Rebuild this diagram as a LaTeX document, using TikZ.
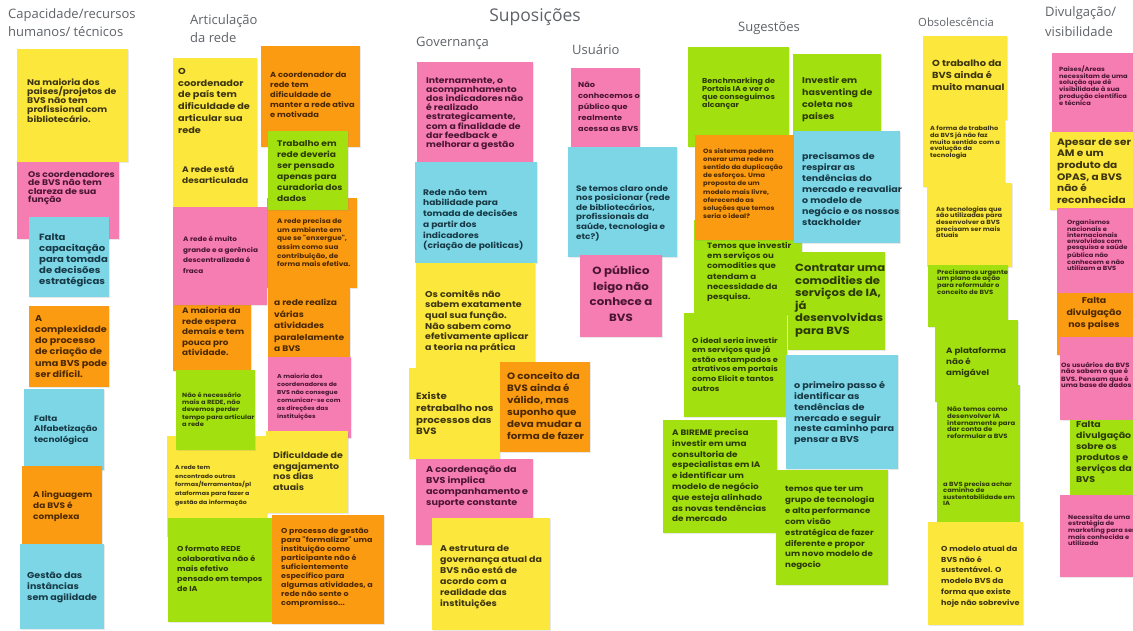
\documentclass[tikz,border=0pt]{standalone}
\usepackage{fontspec}
\setmainfont{Poppins}
\newfontfamily\notefont{Poppins}[FakeStretch=1.12]
\newfontfamily\titlefont{Open Sans}
\usetikzlibrary{fit,shadows}
\definecolor{cY}{HTML}{FCE83C}
\definecolor{cP}{HTML}{F67DB1}
\definecolor{cB}{HTML}{7CD6E6}
\definecolor{cO}{HTML}{FB9B12}
\definecolor{cG}{HTML}{A3E00F}
\definecolor{tY}{HTML}{3D3510}
\definecolor{tP}{HTML}{4A1533}
\definecolor{tB}{HTML}{173845}
\definecolor{tO}{HTML}{4A2800}
\definecolor{tG}{HTML}{2B3A05}
\definecolor{titlegray}{HTML}{5F6368}
\tikzset{
  note/.style={inner sep=0pt, outer sep=0pt, draw=none,
    drop shadow={opacity=0.18, shadow xshift=0.6pt, shadow yshift=-0.9pt}},
  notetext/.style={anchor=north west, align=left, inner sep=0pt},
  coltitle/.style={text=titlegray, inner sep=0pt, font=\titlefont\fontsize{13}{18.5}\selectfont},
}
\newcommand{\stick}[9]{%
  \node[note, fill=c#2, fit={(#3) (#4)}] (#1) {};
  \node[notetext, text=t#2, font={\notefont\fontsize{#6}{#7}\selectfont\bfseries}, #8] (#1-t) at (#5) {#9};
}
\begin{document}
\begin{tikzpicture}[x=1pt,y=-1pt]
\useasboundingbox (0,0) rectangle (1133,631);
\fill[white] (0,0) rectangle (1133,631);

% ---------- titles ----------
\node[coltitle, anchor=north west, align=left] (tcap) at (8,8) {Capacidade/recursos\\humanos/ técnicos};
\node[coltitle, anchor=north west, align=left] (tart) at (190,14) {Articulação\\da rede};
\node[coltitle, font=\titlefont\fontsize{17.5}{19}\selectfont] (tsup) at (535,17) {Suposições};
\node[coltitle, anchor=west] (tgov) at (416,43) {Governança};
\node[coltitle, anchor=west] (tusu) at (572,50) {Usuário};
\node[coltitle, anchor=west] (tsug) at (738,28) {Sugestões};
\node[coltitle, anchor=west, font=\titlefont\fontsize{11.3}{13}\selectfont] (tobs) at (918,22) {Obsolescência};
\node[coltitle, anchor=north west, align=left, font=\titlefont\fontsize{13}{20}\selectfont] (tdiv) at (1045,6) {Divulgação/\\visibilidade};

% ---------- Capacidade ----------
\stick{c1}{Y}{17,49}{128,162}{27,79}{8.3}{8.8}{}{Na maioria dos\\paises/projetos de\\BVS não tem\\profissional com\\bibliotecário.}
\stick{c2}{P}{17,162}{119,239}{28,171}{8.2}{8.5}{}{Os coordenadores\\de BVS não tem\\clareza de sua\\função}
\stick{c3}{B}{29,217}{109,297}{39,234}{9}{10.8}{}{Falta\\capacitação\\para tomada\\de decisões\\estratégicas}
\stick{c4}{O}{29,306}{109,387}{35,315}{8.6}{11.2}{}{A\\complexidade\\do processo\\de criação de\\uma BVS pode\\ser difícil.}
\stick{c5}{B}{24,389}{104,470}{34,415}{7.9}{10.8}{}{Falta\\Alfabetização\\tecnológica}
\stick{c6}{O}{22,466}{102,547}{33,491}{8}{11}{}{A linguagem\\da BVS é\\complexa}
\stick{c7}{B}{20,544}{104,629}{27,572}{8.5}{11}{}{Gestão das\\instâncias\\sem agilidade}

% ---------- Articulação ----------
\stick{a2}{O}{261,46}{360,147}{270,72}{7.4}{10}{}{A coordenador da\\rede tem\\dificuldade de\\manter a rede ativa\\e motivada}
\stick{a1}{Y}{173,58}{257,144}{178,68}{8.7}{11.8}{}{O\\coordenador\\de país tem\\dificuldade de\\articular sua\\rede}
\stick{a3}{Y}{173,144}{257,208}{182,166}{8.1}{10.3}{}{A rede está\\desarticulada}
\stick{a5}{O}{267,198}{357,288}{277,218}{6.5}{8.7}{}{A rede precisa de\\um ambiente em\\que se "enxergue",\\assim como sua\\contribuição, de\\forma mais efetiva.}
\stick{a4}{G}{268,131}{348,210}{277,140}{8.1}{11}{}{Trabalho em\\rede deveria\\ser pensado\\apenas para\\curadoria dos\\dados}
\stick{a7}{O}{173,293}{251,371}{182,307}{7.9}{10.5}{}{A maioria da\\rede espera\\demais e tem\\pouca pro\\atividade.}
\stick{a6}{P}{173,207}{267,305}{183,236}{6.5}{10.5}{}{A rede é muito\\grande e a gerência\\descentralizada é\\fraca}
\stick{a8}{O}{268,288}{350,357}{274,299}{8.1}{11.5}{}{a rede realiza\\várias\\atividades\\paralelamente\\a BVS}
\stick{a11}{Y}{167,436}{267,537}{175,465}{5.6}{8.7}{}{A rede tem\\encontrado outras\\formas/ferramentas/pl\\ataformas para fazer a\\gestão da informação}
\stick{a9}{G}{176,370}{255,450}{182,392}{6}{7.3}{}{Não é necessário\\mais a REDE, não\\devemos perder\\tempo para articular\\a rede}
\stick{a10}{P}{268,357}{351,438}{277,374}{5.7}{8}{}{A maioria dos\\coordenadores de\\BVS não consegue\\comunicar-se com\\as direções das\\instituições}
\stick{a12}{Y}{266,431}{348,513}{273,452}{8.4}{10.5}{}{Dificuldade de\\engajamento\\nos dias\\atuais}
\stick{a13}{G}{168,518}{272,622}{177,546}{7.2}{10}{}{O formato REDE\\colaborativa não é\\mais efetivo\\pensado em tempos\\de IA}
\stick{a14}{O}{272,515}{384,624}{281,528}{7.1}{9}{}{O processo de gestão\\para "formalizar" uma\\instituição como\\participante não é\\suficientemente\\específico para\\algumas  atividades, a\\rede não sente o\\compromisso...}

% ---------- Governança ----------
\stick{g1}{P}{417,62}{533,163}{426,77}{8.3}{9.2}{}{Internamente, o\\acompanhamento\\dos indicadores não\\é realizado\\estrategicamente,\\com a finalidade de\\dar feedback e\\melhorar a gestão}
\stick{g2}{B}{415,162}{537,263}{423,189}{8.1}{10.7}{}{Rede não tem\\habilidade para\\tomada de decisões\\a partir dos\\indicadores\\(criação de politicas)}
\stick{g3}{Y}{416,263}{535,382}{425,290}{8.5}{10.7}{}{Os comitês não\\sabem exatamente\\qual sua função.\\Não sabem como\\efetivamente aplicar\\a teoria na prática}
\stick{g4}{Y}{409,368}{500,459}{416,392}{9.1}{11.8}{}{Existe\\retrabalho nos\\processos das\\BVS}
\stick{g5}{O}{500,362}{590,452}{507,372}{9.2}{12}{}{O conceito da\\BVS ainda é\\válido, mas\\suponho que\\deva mudar a\\forma de fazer}
\stick{g6}{P}{416,459}{533,545}{426,466}{8.6}{10.9}{}{A coordenação da\\BVS implica\\acompanhamento e\\suporte constante}
\stick{g7}{Y}{432,518}{550,630}{440,545}{8.4}{11}{}{A estrutura de\\governança atual da\\BVS não está de\\acordo com a\\realidade das\\instituições}

% ---------- Usuário ----------
\stick{u1}{P}{571,68}{640,148}{578,82}{7.3}{11}{}{Não\\conhecemos o\\público que\\realmente\\acessa as BVS}
\stick{u2}{B}{568,147}{677,257}{576,185}{7.9}{9.6}{}{Se temos claro onde\\nos posicionar (rede\\de bibliotecários,\\profissionais da\\saúde, tecnologia e\\etc?)}
\stick{u3}{P}{580,255}{662,337}{621,266}{10.5}{15.5}{anchor=north,align=center}{O público\\leigo não\\conhece a\\BVS}

% ---------- Sugestões ----------
\stick{s1}{G}{688,47}{789,147}{702,78}{7.1}{7.8}{}{Benchmarking de\\Portais IA e ver o\\que conseguimos\\alcançar}
\stick{s2}{G}{793,54}{881,135}{802,76}{8.5}{12}{}{Investir em\\hasventing de\\coleta nos\\paises}
\stick{s5}{G}{694,220}{802,315}{707,242}{7.7}{10.3}{}{Temos que investir\\em serviços ou\\comodities que\\atendam a\\necessidade da\\pesquisa.}
\stick{s3}{O}{695,135}{794,240}{703,148}{6.2}{8.2}{}{Os sistemas podem\\onerar uma rede no\\sentido da duplicação\\de esforços. Uma\\proposta de um\\modelo mais livre,\\oferecendo as\\soluções que temos\\seria o ideal?}
\stick{s4}{B}{794,131}{900,243}{802,152}{8.5}{11}{}{precisamos de\\respirar as\\tendências do\\mercado e reavaliar\\o modelo de\\negócio e os nossos\\stackholder}
\stick{s7}{G}{684,313}{787,417}{692,337}{7.3}{9.6}{}{O ideal seria investir\\em serviços que já\\estão estampados e\\atrativos em portais\\como Elicit e tantos\\outros}
\stick{s6}{G}{788,252}{885,350}{795,264}{10.4}{12.5}{}{Contratar uma\\comodities de\\serviços de IA,\\já\\desenvolvidas\\para BVS}
\stick{s8}{B}{786,355}{898,469}{794,381}{8.6}{10.9}{}{o primeiro passo é\\identificar as\\tendências de\\mercado e seguir\\neste caminho para\\pensar a BVS}
\stick{s9}{G}{663,420}{777,533}{672,429}{7.9}{10.8}{}{A BIREME precisa\\investir  em uma\\consultoria de\\especialistas em IA\\e identificar um\\modelo de negócio\\que esteja alinhado\\as novas tendências\\de mercado}
\stick{s10}{G}{776,470}{888,585}{785,486}{7.7}{10.9}{}{temos que ter um\\grupo de tecnologia\\e alta performance\\com visão\\estratégica de fazer\\diferente e propor\\um novo modelo de\\negocio}

% ---------- Obsolescência ----------
\stick{o1}{Y}{923,36}{1007,120}{932,60}{8.8}{12}{}{O trabalho da\\BVS ainda é\\muito manual}
\stick{o2}{Y}{923,120}{1005,187}{930,126}{5.9}{6.7}{}{A forma de trabalho\\da BVS já não faz\\muito sentido com a\\evolução da\\tecnologia}
\stick{o3}{Y}{927,183}{1012,267}{936,206}{6}{6.7}{}{As tecnologias que\\são utilizadas para\\desenvolver a BVS\\precisam ser mais\\atuais}
\stick{o4}{G}{928,265}{1008,327}{937,269}{6.1}{6.7}{}{Precisamos urgente\\um plano de ação\\para reformular o\\conceito de BVS}
\stick{o5}{G}{935,320}{1018,402}{946,347}{7.8}{11}{}{A plataforma\\não é\\amigável}
\stick{o6}{G}{937,385}{1020,468}{947,407}{6.2}{6.7}{}{Não temos como\\desenvolver IA\\internamente para\\dar conta de\\reformular a BVS}
\stick{o7}{G}{937,468}{1020,523}{943,481}{6}{6.5}{}{a BVS precisa achar\\caminho de\\sustentabilidade em\\IA}
\stick{o8}{Y}{928,522}{1023,625}{941,546}{7.2}{10.7}{}{O modelo atual da\\BVS não é\\sustentável. O\\modelo BVS da\\forma que existe\\hoje não sobrevive}

% ---------- Divulgação ----------
\stick{d1}{P}{1052,53}{1140,132}{1059,66}{6}{6.2}{}{Paises/Areas\\necessitam de uma\\solução que dê\\visibilidade à sua\\produção científica\\e técnica}
\stick{d2}{Y}{1050,132}{1140,210}{1057,138}{9.4}{11.7}{}{Apesar de ser\\AM e um\\produto da\\OPAS, a BVS\\não é\\reconhecida}
\stick{d3}{P}{1057,208}{1140,293}{1067,219}{6}{6}{}{Organismos\\nacionais e\\internacionais\\envolvidos com\\pesquisa e saúde\\pública não\\conhecem e não\\utilizam a BVS}
\stick{d4}{O}{1057,293}{1140,355}{1094,297}{8.4}{12}{anchor=north,align=center}{Falta\\divulgação\\nos paises}
\stick{d5}{P}{1060,337}{1140,420}{1061,362}{6.2}{6.3}{}{Os usuários da BVS\\não sabem o que é\\BVS. Pensam que é\\uma base de dados}
\stick{d6}{G}{1070,420}{1140,495}{1076,421}{8.4}{11}{}{Falta\\divulgação\\sobre os\\produtos e\\serviços da\\BVS}
\stick{d7}{P}{1060,495}{1140,577}{1068,514}{6}{6.7}{}{Necessita de uma\\estratégia de\\marketing para ser\\mais conhecida e\\utilizada}
\end{tikzpicture}
\end{document}
